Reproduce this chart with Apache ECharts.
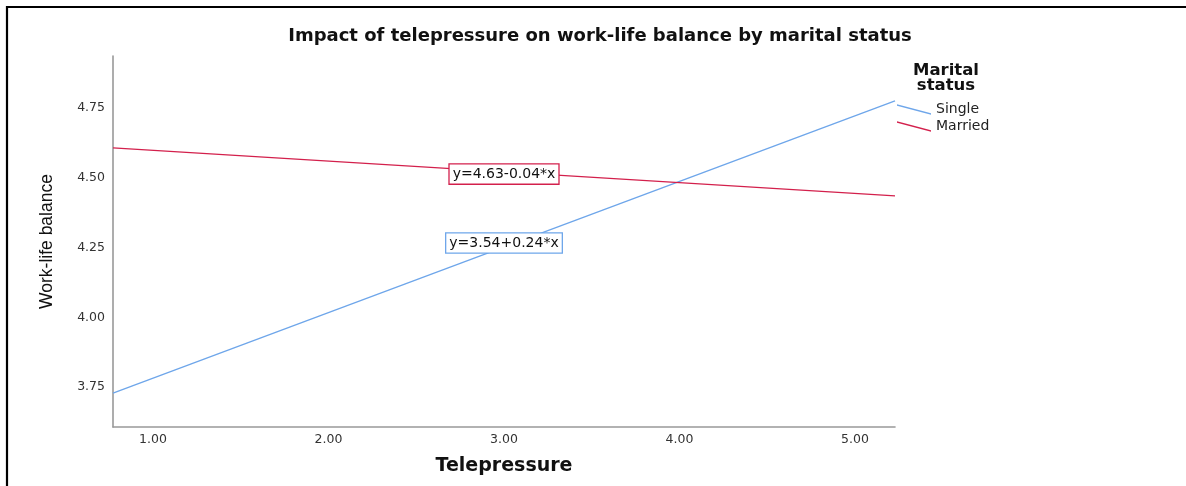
<!DOCTYPE html>
<html>
<head>
<meta charset="utf-8">
<script src="https://cdn.jsdelivr.net/npm/echarts@6/dist/echarts.min.js"></script>
<style>
  html, body { margin: 0; padding: 0; background: #fff; }
  #chart { width: 1186px; height: 486px; }
</style>
</head>
<body>
<div id="chart"></div>
<script>
// ---- data ----
const xEnds = [0.772, 5.228];            // x-range over which the fit lines are drawn
const singleValues = [3.728, 4.775];     // Single fit line at xEnds
const marriedValues = [4.607, 4.435];    // Married fit line at xEnds
const seriesNames = ['Single', 'Married'];
const xTicks = [1, 2, 3, 4, 5];
const yTicks = [3.75, 4.00, 4.25, 4.50, 4.75];
const singleEquation = 'y=3.54+0.24*x';
const marriedEquation = 'y=4.63-0.04*x';
const singleLabelAt = [3.0, 4.266];
const marriedLabelAt = [3.0, 4.513];

const BLUE = '#6ea6ea';
const RED = '#d3204c';
const FONT = 'DejaVu Sans';

const chart = echarts.init(document.getElementById('chart'), null, { renderer: 'canvas' });

function eqMark(coord, text, color) {
  return {
    symbol: 'rect', symbolSize: 0, silent: true,
    data: [{ coord: coord, value: text }],
    label: {
      show: true, position: 'inside', formatter: text,
      fontFamily: FONT, fontSize: 14, color: '#111',
      backgroundColor: '#fff', borderColor: color, borderWidth: 1.3,
      padding: [3, 3, 2, 3]
    }
  };
}

const option = {
  backgroundColor: '#fff',
  animation: false,
  title: [
    {
      text: 'Impact of telepressure on work-life balance by marital status',
      left: 600, top: 27, textAlign: 'center', padding: 0,
      textStyle: { fontFamily: FONT, fontWeight: 'bold', fontSize: 18, color: '#111' }
    },
    {
      text: 'Marital\nstatus',
      left: 946, top: 63, textAlign: 'center', padding: 0,
      textStyle: { fontFamily: FONT, fontWeight: 'bold', fontSize: 16.5, lineHeight: 15, color: '#111' }
    }
  ],
  legend: {
    orient: 'vertical', left: 897, top: 101, padding: 0,
    data: seriesNames,
    icon: 'path://M0,0L34,9L34,10.6L0,1.6Z',
    itemWidth: 34, itemHeight: 11, itemGap: 0,
    itemStyle: { borderWidth: 0 },
    textStyle: { fontFamily: FONT, fontSize: 14, color: '#222', lineHeight: 16, padding: [1, 0, 0, 0] }
  },
  grid: { left: 113, right: 291, top: 56, bottom: 59, containLabel: false },
  xAxis: {
    type: 'value', min: xEnds[0], max: xEnds[1],
    name: 'Telepressure', nameLocation: 'middle', nameGap: 30,
    nameTextStyle: { fontFamily: FONT, fontWeight: 'bold', fontSize: 19, color: '#111' },
    axisLine: { show: true, lineStyle: { color: '#999', width: 1.6 } },
    axisTick: { show: false },
    splitLine: { show: false },
    axisLabel: {
      customValues: xTicks, margin: 6,
      fontFamily: FONT, fontSize: 12.5, color: '#333',
      formatter: v => v.toFixed(2)
    }
  },
  yAxis: {
    type: 'value', min: 3.607, max: 4.936,
    name: 'Work-life balance', nameLocation: 'middle', nameGap: 57, nameRotate: 90,
    nameTextStyle: { fontFamily: 'Liberation Sans', fontSize: 17.5, color: '#111' },
    axisLine: { show: true, lineStyle: { color: '#999', width: 1.6 } },
    axisTick: { show: false },
    splitLine: { show: false },
    axisLabel: {
      customValues: yTicks, margin: 8,
      fontFamily: FONT, fontSize: 12.5, color: '#333',
      formatter: v => v.toFixed(2)
    }
  },
  graphic: [
    {
      type: 'polyline', silent: true, z: 100,
      shape: { points: [[7, 486], [7, 7], [1186, 7]] },
      style: { stroke: '#000', lineWidth: 2.2, fill: null }
    }
  ],
  series: [
    {
      name: seriesNames[0], type: 'line', showSymbol: false, symbol: 'none',
      color: BLUE,
      lineStyle: { color: BLUE, width: 1.3 },
      data: xEnds.map((x, i) => [x, singleValues[i]]),
      markPoint: eqMark(singleLabelAt, singleEquation, BLUE)
    },
    {
      name: seriesNames[1], type: 'line', showSymbol: false, symbol: 'none',
      color: RED,
      lineStyle: { color: RED, width: 1.3 },
      data: xEnds.map((x, i) => [x, marriedValues[i]]),
      markPoint: eqMark(marriedLabelAt, marriedEquation, RED)
    }
  ]
};
chart.setOption(option);
</script>
</body>
</html>
